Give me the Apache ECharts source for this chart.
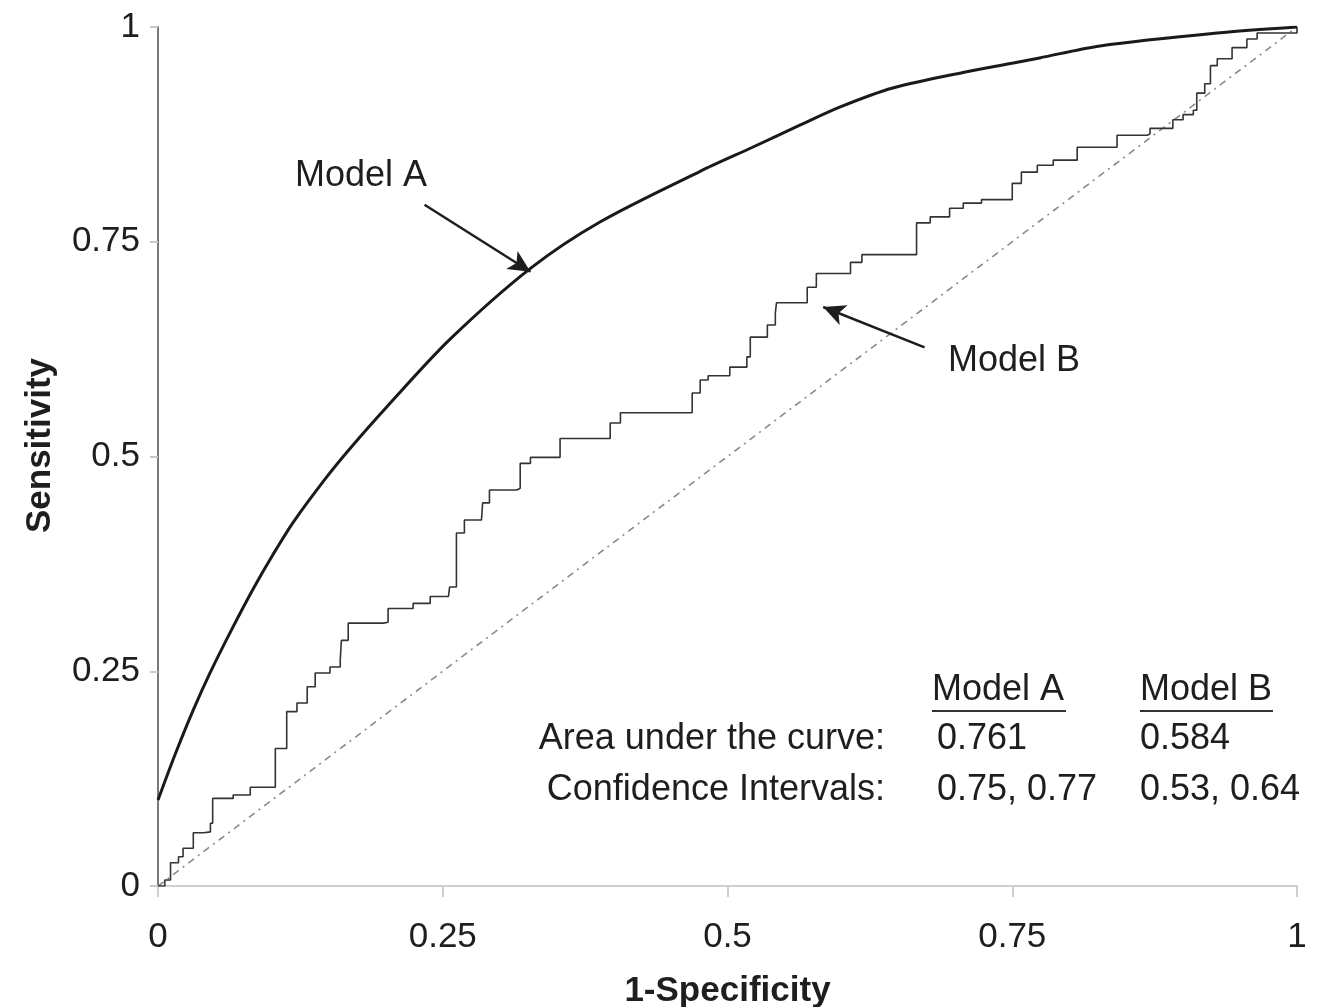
<!DOCTYPE html>
<html>
<head>
<meta charset="utf-8">
<script src="https://cdn.jsdelivr.net/npm/echarts@6/dist/echarts.min.js"></script>
<style>
html,body{margin:0;padding:0;background:#fff;}
#chart{width:1320px;height:1007px;}
</style>
</head>
<body>
<div id="chart"></div>
<script>
// ---- data ----
var tickLabels = ['0', '0.25', '0.5', '0.75', '1'];
var modelAFpr = [0, 0.015, 0.031, 0.046, 0.066, 0.084, 0.101, 0.119, 0.148, 0.169, 0.201, 0.256, 0.327, 0.388, 0.476, 0.522, 0.564, 0.599, 0.645, 0.710, 0.751, 0.774, 0.827, 0.930, 1];
var modelATpr = [0.100, 0.153, 0.205, 0.249, 0.302, 0.347, 0.386, 0.424, 0.476, 0.510, 0.558, 0.636, 0.719, 0.773, 0.832, 0.860, 0.886, 0.907, 0.929, 0.948, 0.958, 0.964, 0.978, 0.993, 1];
var modelBFpr = [0, 0.006, 0.011, 0.018, 0.022, 0.031, 0.040, 0.046, 0.048, 0.066, 0.081, 0.100, 0.103, 0.111, 0.113, 0.122, 0.131, 0.138, 0.151, 0.160, 0.161, 0.167, 0.198, 0.202, 0.224, 0.239, 0.255, 0.256, 0.262, 0.269, 0.284, 0.285, 0.291, 0.315, 0.318, 0.327, 0.344, 0.353, 0.391, 0.397, 0.406, 0.465, 0.469, 0.476, 0.483, 0.496, 0.502, 0.517, 0.520, 0.530, 0.535, 0.542, 0.543, 0.567, 0.570, 0.578, 0.600, 0.608, 0.618, 0.654, 0.666, 0.678, 0.695, 0.707, 0.723, 0.748, 0.750, 0.758, 0.772, 0.786, 0.805, 0.807, 0.836, 0.842, 0.869, 0.871, 0.889, 0.891, 0.900, 0.909, 0.912, 0.919, 0.924, 0.930, 0.943, 0.956, 0.965, 1];
var modelBTpr = [0, 0.007, 0.027, 0.034, 0.044, 0.062, 0.063, 0.073, 0.102, 0.106, 0.115, 0.115, 0.160, 0.160, 0.203, 0.213, 0.232, 0.248, 0.255, 0.263, 0.286, 0.306, 0.307, 0.323, 0.329, 0.337, 0.337, 0.348, 0.411, 0.426, 0.426, 0.446, 0.461, 0.463, 0.492, 0.499, 0.499, 0.521, 0.521, 0.539, 0.551, 0.551, 0.574, 0.589, 0.594, 0.594, 0.604, 0.616, 0.639, 0.639, 0.653, 0.667, 0.679, 0.679, 0.697, 0.713, 0.713, 0.726, 0.735, 0.735, 0.772, 0.779, 0.789, 0.795, 0.799, 0.799, 0.818, 0.831, 0.839, 0.845, 0.845, 0.860, 0.860, 0.874, 0.876, 0.882, 0.882, 0.892, 0.898, 0.903, 0.923, 0.934, 0.955, 0.963, 0.976, 0.986, 0.993, 1];
var chanceFpr = [0, 1];
var chanceTpr = [0, 1];
var seriesNames = ['Model A', 'Model B'];
var arrowA = [[0.234, 0.793], [0.327, 0.715]];
var arrowB = [[0.673, 0.627], [0.584, 0.674]];
var axisNames = ['1-Specificity', 'Sensitivity'];
var tableHeaders = ['Model A', 'Model B'];
var rowLabels = ['Area under the curve:', 'Confidence Intervals:'];
var aucValues = ['0.761', '0.584'];
var ciValues = ['0.75, 0.77', '0.53, 0.64'];

function pairs(xs, ys) { return xs.map(function (x, i) { return [x, ys[i]]; }); }

var FONT = '"Liberation Sans", Arial, sans-serif';
var TXT = '#1e1e1e';
var chart = echarts.init(document.getElementById('chart'), null, { renderer: 'canvas' });

function txt(x, y, s, align, extra) {
  var st = { text: s, fontSize: 36, fontFamily: FONT, fill: TXT, align: align || 'left', verticalAlign: 'middle' };
  if (extra) for (var k in extra) st[k] = extra[k];
  return { type: 'text', x: x, y: y, style: st, silent: true };
}

var option = {
  animation: false,
  backgroundColor: '#fff',
  grid: { left: 158, right: 23, top: 27, bottom: 121, containLabel: false, outerBoundsMode: 'none' },
  xAxis: {
    type: 'value', min: 0, max: 1, interval: 0.25,
    name: axisNames[0], nameLocation: 'middle', nameGap: 88,
    nameTextStyle: { fontSize: 35, fontWeight: 'bold', fontFamily: FONT, color: TXT },
    axisLine: { show: true, lineStyle: { color: '#cfcfcf', width: 2 } },
    axisTick: { show: true, length: 11, lineStyle: { color: '#cfcfcf', width: 2 } },
    splitLine: { show: false },
    axisLabel: { fontSize: 35, fontFamily: FONT, color: TXT, margin: 34, showMinLabel: true, showMaxLabel: true,
      formatter: function (v) { return tickLabels[Math.round(v / 0.25)]; } }
  },
  yAxis: {
    type: 'value', min: 0, max: 1, interval: 0.25,
    name: axisNames[1], nameLocation: 'middle', nameGap: 100, nameRotate: 90,
    nameTextStyle: { fontSize: 35, fontWeight: 'bold', fontFamily: FONT, color: TXT, padding: [0, 0, 0, 22] },
    axisLine: { show: true, lineStyle: { color: '#7a7a7a', width: 2 } },
    axisTick: { show: true, length: 8, lineStyle: { color: '#c8c8c8', width: 2 } },
    splitLine: { show: false },
    axisLabel: { fontSize: 35, fontFamily: FONT, color: TXT, margin: 18, showMinLabel: true, showMaxLabel: true,
      formatter: function (v) { return tickLabels[Math.round(v / 0.25)]; } }
  },
  series: [
    {
      type: 'line', name: 'chance', data: pairs(chanceFpr, chanceTpr), showSymbol: false, silent: true,
      lineStyle: { color: '#8a8a8a', width: 1.6, type: [7, 5, 2, 5] },
      markLine: {
        silent: true, symbol: ['none', 'arrow'], symbolSize: [16, 22],
        label: { show: false },
        lineStyle: { color: '#1e1e1e', width: 2.5, type: 'solid' },
        data: [
          [{ coord: arrowA[0] }, { coord: arrowA[1] }],
          [{ coord: arrowB[0] }, { coord: arrowB[1] }]
        ]
      }
    },
    {
      type: 'line', name: seriesNames[1], data: pairs(modelBFpr, modelBTpr), showSymbol: false, silent: true,
      step: 'end', lineStyle: { color: '#333', width: 1.6 }
    },
    {
      type: 'line', name: seriesNames[0], data: pairs(modelAFpr, modelATpr), showSymbol: false, silent: true,
      smooth: 0.3, lineStyle: { color: '#1a1a1a', width: 3 }
    }
  ],
  graphic: [
    txt(295, 176, seriesNames[0]),
    txt(948, 361, seriesNames[1]),
    txt(932, 690, tableHeaders[0]),
    txt(1140, 690, tableHeaders[1]),
    { type: 'line', shape: { x1: 932, y1: 711, x2: 1066, y2: 711 }, style: { stroke: '#333', lineWidth: 2 }, silent: true },
    { type: 'line', shape: { x1: 1140, y1: 711, x2: 1273, y2: 711 }, style: { stroke: '#333', lineWidth: 2 }, silent: true },
    txt(885, 739, rowLabels[0], 'right'),
    txt(885, 790, rowLabels[1], 'right'),
    txt(937, 739, aucValues[0]),
    txt(1140, 739, aucValues[1]),
    txt(937, 790, ciValues[0]),
    txt(1140, 790, ciValues[1])
  ]
};
chart.setOption(option);
</script>
</body>
</html>
